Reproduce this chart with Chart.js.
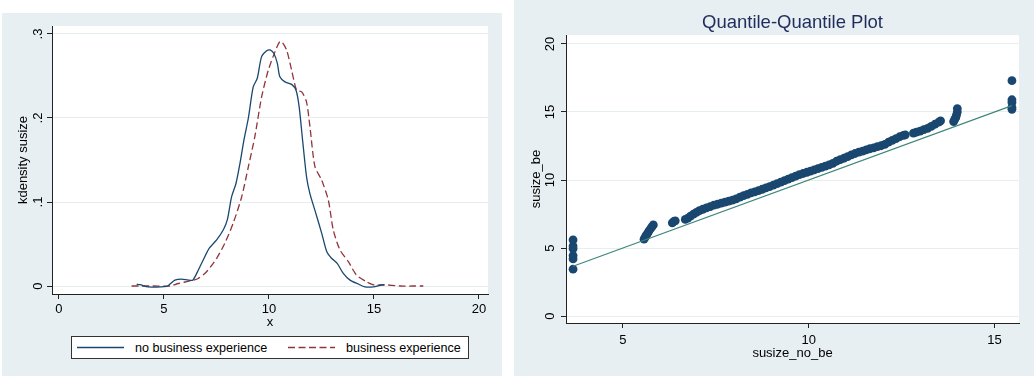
<!DOCTYPE html>
<html>
<head>
<meta charset="utf-8">
<script src="https://cdn.jsdelivr.net/npm/chart.js@4/dist/chart.umd.min.js"></script>
<style>
  body { margin: 0; width: 1034px; height: 376px; position: relative; overflow: hidden; background: #fff;
         font-family: "Liberation Sans", Arial, sans-serif; }
  .panel { position: absolute; background: #e8eff2; }
  #left { left: 2px; top: 13px; width: 500px; height: 363px; }
  #right { left: 514px; top: 0; width: 520px; height: 376px; }
  .panel canvas { position: absolute; left: 0; top: 0; }
  #legend { position: absolute; left: 69px; top: 323px; width: 396px; height: 21px; background: #fff;
            border: 1px solid #333; font-size: 12.6px; color: #000; }
  #legend .item { position: absolute; top: 0; height: 21px; display: flex; align-items: center; white-space: nowrap; }
  #legend svg { margin-right: 11px; }
</style>
</head>
<body>
<div class="panel" id="left">
  <canvas id="densChart" width="500" height="363"></canvas>
  <div id="legend"></div>
</div>
<div class="panel" id="right">
  <canvas id="qqChart" width="520" height="376"></canvas>
</div>
<script>
// kernel density of susize, no business experience
var densNoBeX = [3.70, 3.86, 4.25, 5.13, 5.29, 5.52, 5.84, 6.16, 6.37, 6.56, 6.87, 7.16, 7.51, 7.83, 8.02,
  8.22, 8.43, 8.62, 8.81, 9.02, 9.25, 9.44, 9.65, 9.89, 10.05, 10.23, 10.40, 10.52, 10.76, 11.08,
  11.29, 11.44, 11.60, 11.79, 11.95, 12.19, 12.51, 12.75, 12.98, 13.25, 13.54, 13.86, 14.25, 14.57,
  14.97, 15.37, 15.50];
var densNoBeY = [0.002, 0.0016, -0.001, -0.0005, 0.0024, 0.007, 0.0083, 0.007, 0.007, 0.015, 0.031, 0.045,
  0.055, 0.067, 0.079, 0.106, 0.122, 0.146, 0.174, 0.200, 0.237, 0.247, 0.273, 0.280, 0.281, 0.277,
  0.265, 0.249, 0.243, 0.240, 0.233, 0.213, 0.174, 0.130, 0.110, 0.090, 0.063, 0.041, 0.033, 0.027,
  0.015, 0.007, 0.0024, -0.001, -0.001, 0.0012, 0.001];

// kernel density of susize, business experience
var densBeX = [3.46, 4.49, 5.29, 5.68, 6.24, 6.63, 7.03, 7.51, 7.90, 8.30, 8.70, 9.02, 9.33, 9.65, 9.97,
  10.29, 10.49, 10.60, 10.84, 11.08, 11.32, 11.56, 11.79, 11.95, 12.19, 12.51, 12.83, 13.06, 13.38,
  13.78, 14.17, 14.65, 15.05, 15.44, 16.24, 16.87, 17.35];
var densBeY = [0, 0, 0, 0.003, 0.006, 0.009, 0.017, 0.033, 0.051, 0.075, 0.106, 0.142, 0.178, 0.225, 0.257,
  0.279, 0.290, 0.291, 0.281, 0.257, 0.233, 0.231, 0.219, 0.190, 0.142, 0.126, 0.102, 0.067, 0.043,
  0.029, 0.013, 0.005, 0.001, 0.0016, 0, 0, 0];

var densXTicks = [0, 5, 10, 15, 20];
var densYTicks = [0, 0.1, 0.2, 0.3];

// quantiles: susize_no_be against susize_be
var qqNoBe = [3.66, 3.66, 3.66, 3.66, 3.66, 3.66,
  5.57, 5.60, 5.63, 5.67, 5.70, 5.74, 5.78, 5.82,
  6.33, 6.37, 6.41,
  6.68, 6.75, 6.82, 6.90, 6.98, 7.06, 7.15, 7.25, 7.35, 7.45, 7.55, 7.65, 7.75, 7.85, 7.95,
  8.05, 8.15, 8.25, 8.35, 8.45, 8.55, 8.65, 8.75, 8.85, 8.95, 9.05, 9.15, 9.25, 9.35, 9.45,
  9.55, 9.65, 9.75, 9.85, 9.95, 10.05, 10.15, 10.25, 10.35, 10.45, 10.55, 10.65, 10.75, 10.85,
  10.95, 11.05, 11.15, 11.25, 11.35, 11.45, 11.55, 11.65, 11.75, 11.85, 11.95, 12.05, 12.15,
  12.25, 12.35, 12.45, 12.55, 12.60,
  12.82, 12.90, 13.00, 13.10, 13.20, 13.30, 13.40, 13.50, 13.55,
  13.90, 13.93, 13.96, 13.98, 14.00, 14.00,
  15.47, 15.47, 15.47, 15.47, 15.47];
var qqBe = [3.45, 4.20, 4.45, 4.95, 5.15, 5.60,
  5.65, 5.80, 5.95, 6.10, 6.25, 6.40, 6.55, 6.70,
  6.85, 6.95, 7.00,
  7.10, 7.20, 7.35, 7.50, 7.62, 7.75, 7.85, 7.95, 8.05, 8.15, 8.22, 8.30, 8.37, 8.45, 8.52,
  8.62, 8.75, 8.85, 8.95, 9.05, 9.13, 9.22, 9.32, 9.42, 9.52, 9.63, 9.74, 9.85, 9.95, 10.07,
  10.18, 10.28, 10.40, 10.48, 10.57, 10.66, 10.75, 10.84, 10.93, 11.02, 11.12, 11.22, 11.38, 11.50,
  11.60, 11.72, 11.85, 11.95, 12.05, 12.13, 12.22, 12.30, 12.37, 12.45, 12.52, 12.62, 12.78,
  12.92, 13.05, 13.18, 13.28, 13.32,
  13.45, 13.52, 13.60, 13.70, 13.80, 13.95, 14.10, 14.25, 14.35,
  14.30, 14.45, 14.60, 14.80, 15.00, 15.25,
  15.20, 15.35, 15.70, 15.90, 17.30];

var qqXTicks = [5, 10, 15];
var qqYTicks = [0, 5, 10, 15, 20];

var navy = '#1a476f';
var maroon = '#90353b';
var teal = '#3f877c';
var ink = '#222';

Chart.defaults.font.family = '"Liberation Sans", Arial, sans-serif';
Chart.defaults.font.size = 13;
Chart.defaults.color = '#000';

function pairs(xs, ys) {
  return xs.map(function (x, i) { return { x: x, y: ys[i] }; });
}

function fixTicks(values) {
  return function (scale) {
    scale.ticks = values.map(function (v) { return { value: v }; });
  };
}

// white plot region inside the grey panel
var plotBg = {
  id: 'plotBg',
  beforeDraw: function (chart) {
    var a = chart.chartArea, ctx = chart.ctx;
    ctx.save();
    ctx.fillStyle = '#fff';
    ctx.fillRect(a.left, a.top, a.right - a.left, a.bottom - a.top);
    ctx.restore();
  }
};

// y tick labels written sideways, like the axis title
var sideTicks = {
  id: 'sideTicks',
  afterDraw: function (chart, args, opts) {
    var s = chart.scales.y, ctx = chart.ctx;
    ctx.save();
    ctx.font = '13px "Liberation Sans", Arial, sans-serif';
    ctx.fillStyle = '#000';
    ctx.textAlign = 'center';
    ctx.textBaseline = 'middle';
    s.ticks.forEach(function (t) {
      ctx.save();
      ctx.translate(s.right - opts.gap, s.getPixelForValue(t.value));
      ctx.rotate(-Math.PI / 2);
      ctx.fillText(t.label, 0, 0);
      ctx.restore();
    });
    ctx.restore();
  }
};

var densChart = new Chart(document.getElementById('densChart'), {
  type: 'line',
  data: {
    datasets: [
      {
        label: 'no business experience',
        data: pairs(densNoBeX, densNoBeY),
        borderColor: navy,
        borderWidth: 1.3,
        pointRadius: 0,
        tension: 0.25
      },
      {
        label: 'business experience',
        data: pairs(densBeX, densBeY),
        borderColor: maroon,
        borderWidth: 1.3,
        borderDash: [7, 3.5],
        pointRadius: 0,
        tension: 0.25
      }
    ]
  },
  options: {
    responsive: false,
    animation: false,
    layout: { padding: { left: 0, top: 13, right: 14, bottom: 0 } },
    plugins: { legend: { display: false }, tooltip: { enabled: false }, sideTicks: { gap: 13.5 } },
    scales: {
      x: {
        type: 'linear',
        min: -0.33,
        max: 20.43,
        afterBuildTicks: fixTicks(densXTicks),
        afterFit: function (s) { s.height = 82; },
        ticks: { padding: 3, autoSkip: false, maxRotation: 0 },
        grid: { color: 'transparent', tickColor: ink, tickLength: 5 },
        border: { display: true, color: ink, width: 1 },
        title: { display: true, text: 'x', font: { size: 13 }, padding: { top: 0, bottom: 46 } }
      },
      y: {
        type: 'linear',
        min: -0.0095,
        max: 0.3095,
        afterBuildTicks: fixTicks(densYTicks),
        afterFit: function (s) { s.width = 50; },
        ticks: {
          display: false,
          autoSkip: false,
          callback: function (v) { return v === 0 ? '0' : v.toFixed(1).replace(/^0/, ''); }
        },
        grid: { color: '#e6eef0', lineWidth: 1, tickColor: ink, tickLength: 5 },
        border: { display: true, color: ink, width: 1 },
        title: { display: true, text: 'kdensity susize', font: { size: 13 }, padding: { top: 14, bottom: 0 } }
      }
    }
  },
  plugins: [plotBg, sideTicks]
});

// legend box under the density plot
function buildLegend(chart, slots) {
  var box = document.getElementById('legend');
  chart.data.datasets.forEach(function (ds, i) {
    var item = document.createElement('div');
    item.className = 'item';
    item.style.left = slots[i] + 'px';
    var dash = ds.borderDash ? ' stroke-dasharray="' + ds.borderDash.join(' ') + '"' : '';
    item.innerHTML = '<svg width="47" height="21"><line x1="0" y1="10.5" x2="47" y2="10.5" stroke="' +
      ds.borderColor + '" stroke-width="' + ds.borderWidth + '"' + dash + '/></svg>';
    var span = document.createElement('span');
    span.textContent = ds.label;
    item.appendChild(span);
    box.appendChild(item);
  });
}
buildLegend(densChart, [5, 216]);

var qqLo = Math.min.apply(null, qqNoBe);
var qqHi = Math.max.apply(null, qqNoBe);

new Chart(document.getElementById('qqChart'), {
  type: 'scatter',
  data: {
    datasets: [
      {
        label: 'susize_be',
        data: pairs(qqNoBe, qqBe),
        backgroundColor: navy,
        borderWidth: 0,
        pointRadius: 4.4,
        order: 1
      },
      {
        // 45 degree reference line over the range of the data
        label: 'reference',
        data: [{ x: qqLo, y: qqLo }, { x: qqHi, y: qqHi }],
        showLine: true,
        borderColor: teal,
        borderWidth: 1.2,
        pointRadius: 0,
        order: 0
      }
    ]
  },
  options: {
    responsive: false,
    animation: false,
    layout: { padding: { left: 0, top: 0, right: 15, bottom: 0 } },
    plugins: {
      legend: { display: false },
      tooltip: { enabled: false },
      title: {
        display: true,
        fullSize: false,
        text: 'Quantile-Quantile Plot',
        color: '#1e2d5c',
        font: { size: 18.5, weight: 'normal' },
        padding: { top: 12, bottom: 0.8 }
      },
      sideTicks: { gap: 15.5 }
    },
    scales: {
      x: {
        type: 'linear',
        min: 3.47,
        max: 15.66,
        afterBuildTicks: fixTicks(qqXTicks),
        afterFit: function (s) { s.height = 53; },
        ticks: { padding: 5, autoSkip: false, maxRotation: 0 },
        grid: { color: 'transparent', tickColor: ink, tickLength: 5 },
        border: { display: true, color: ink, width: 1 },
        title: { display: true, text: 'susize_no_be', font: { size: 13 }, padding: { top: 0, bottom: 15 } }
      },
      y: {
        type: 'linear',
        min: -0.51,
        max: 20.66,
        afterBuildTicks: fixTicks(qqYTicks),
        afterFit: function (s) { s.width = 52; },
        ticks: { display: false, autoSkip: false },
        grid: { color: '#e6eef0', lineWidth: 1, tickColor: ink, tickLength: 5 },
        border: { display: true, color: ink, width: 1 },
        title: { display: true, text: 'susize_be', font: { size: 13 }, padding: { top: 15, bottom: 0 } }
      }
    }
  },
  plugins: [plotBg, sideTicks]
});
</script>
</body>
</html>
